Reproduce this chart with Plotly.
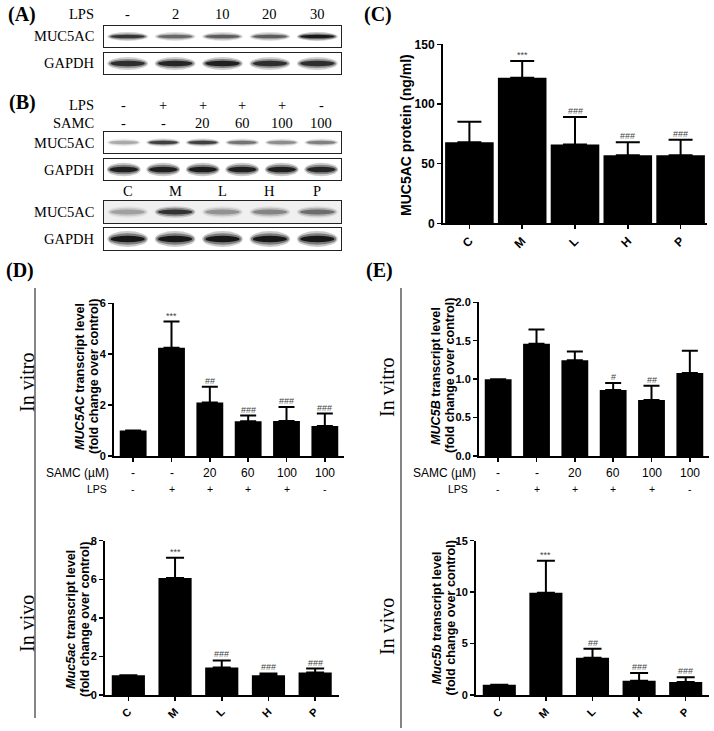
import plotly.graph_objects as go

W, H = 714, 731

# ---------------- data ----------------
c_cats = ["C", "M", "L", "H", "P"]
c_mean = [68, 122, 66, 57, 57]
c_top = [85, 136, 89, 68, 70]
c_sig = ["", "***", "###", "###", "###"]

dvitro_mean = [1.0, 4.25, 2.1, 1.37, 1.38, 1.18]
dvitro_top = [1.0, 5.28, 2.72, 1.59, 1.93, 1.67]
dvitro_sig = ["", "***", "##", "###", "###", "###"]

dvivo_mean = [1.02, 6.07, 1.43, 1.02, 1.17]
dvivo_top = [1.02, 7.12, 1.79, 1.12, 1.37]
dvivo_sig = ["", "***", "###", "###", "###"]

evitro_mean = [1.0, 1.46, 1.245, 0.86, 0.73, 1.08]
evitro_top = [1.0, 1.645, 1.36, 0.95, 0.915, 1.37]
evitro_sig = ["", "", "", "#", "##", ""]

evivo_mean = [1.0, 9.95, 3.63, 1.39, 1.26]
evivo_top = [1.0, 13.05, 4.5, 2.15, 1.72]
evivo_sig = ["", "***", "##", "###", "###"]

samc_labels = ["-", "-", "20", "60", "100", "100"]
lps_labels = ["-", "+", "+", "+", "+", "-"]

blotA_lps = ["-", "2", "10", "20", "30"]
blotB_lps = ["-", "+", "+", "+", "+", "-"]
blotB_samc = ["-", "-", "20", "60", "100", "100"]
blotB2_groups = ["C", "M", "L", "H", "P"]

# band intensities (0..1) read from the blots
bandA_muc = [0.75, 0.5, 0.55, 0.55, 0.95]
bandA_gapdh = [0.8, 0.85, 0.9, 0.8, 0.8]
bandB_muc = [0.25, 0.7, 0.7, 0.45, 0.35, 0.4]
bandB_gapdh = [0.9, 0.9, 0.92, 0.9, 0.9, 0.85]
bandB2_muc = [0.25, 0.75, 0.3, 0.35, 0.45]
bandB2_gapdh = [0.95, 0.95, 0.95, 0.95, 0.95]

SANS = "Liberation Sans"
SERIF = "Liberation Serif"


def px(x):
    return x / W


def py(y):
    return 1 - y / H


def xdom(a, b):
    return [a / W, b / W]


def ydom(top, bottom):
    return [1 - bottom / H, 1 - top / H]


fig = go.Figure()
layout = dict(width=W, height=H, margin=dict(l=0, r=0, t=0, b=0, pad=0),
              autosize=False,
              paper_bgcolor="white", plot_bgcolor="white", showlegend=False)
annotations = []
shapes = []


def note(x, y, text, size, family=SANS, xref="paper", yref="paper",
         xanchor="center", yanchor="middle", angle=0, color="black"):
    annotations.append(dict(x=x, y=y, xref=xref, yref=yref, text=text,
                            showarrow=False, xanchor=xanchor, yanchor=yanchor,
                            textangle=angle, borderpad=0,
                            font=dict(family=family, size=size, color=color)))


def chart_axes(idx, xd, yd, n, yr, dtick, cats=None, tickfmt=None, fs=11):
    xa = dict(domain=xd, anchor="y%d" % idx, range=[-0.5, n - 0.5],
              showline=True, linecolor="black", linewidth=2, ticks="outside",
              ticklen=4, tickwidth=1.5, tickcolor="black", showgrid=False,
              zeroline=False, tickvals=list(range(n)), automargin=False)
    if cats is None:
        xa["showticklabels"] = False
    else:
        xa["ticktext"] = cats
        xa["tickangle"] = -45
        xa["tickfont"] = dict(family=SANS, size=fs, color="black", weight="bold")
    ya = dict(domain=yd, anchor="x%d" % idx, range=yr, dtick=dtick, tick0=0,
              showline=True, linecolor="black", linewidth=2, ticks="outside",
              ticklen=4, tickwidth=1.5, tickcolor="black", showgrid=False,
              zeroline=False, automargin=False,
              tickfont=dict(family=SANS, size=fs, color="black", weight="bold"))
    if tickfmt:
        ya["tickformat"] = tickfmt
    key = "" if idx == 1 else str(idx)
    layout["xaxis" + key] = xa
    layout["yaxis" + key] = ya


def bars(idx, mean, top, sig, width, capw):
    n = len(mean)
    key = "" if idx == 1 else str(idx)
    fig.add_trace(go.Bar(
        x=list(range(n)), y=mean, width=width,
        marker=dict(color="black", line=dict(width=0)),
        error_y=dict(type="data", symmetric=False,
                     array=[t - m for t, m in zip(top, mean)],
                     arrayminus=[0] * n, color="black", thickness=2, width=capw),
        xaxis="x" + key, yaxis="y" + key, hoverinfo="skip"))
    for i, s in enumerate(sig):
        if s:
            note(i, top[i], s, 9, xref="x" + key, yref="y" + key,
                 yanchor="bottom", color="#444")


# ---- panel C ----
chart_axes(1, xdom(443, 707), ydom(44.3, 223.3), 5, [0, 150], 50, cats=c_cats, fs=12)
bars(1, c_mean, c_top, c_sig, 0.92, 12)
note(px(406), py(135), "<b>MUC5AC protein (ng/ml)</b>", 14, angle=-90)

# ---- panel D ----
chart_axes(2, xdom(114, 344), ydom(303.3, 456), 6, [0, 6], 2)
bars(2, dvitro_mean, dvitro_top, dvitro_sig, 0.7, 8)
chart_axes(3, xdom(105, 338.5), ydom(540.7, 695), 5, [0, 8], 2, cats=c_cats)
bars(3, dvivo_mean, dvivo_top, dvivo_sig, 0.71, 9)

# ---- panel E ----
chart_axes(4, xdom(479, 709), ydom(302.3, 456), 6, [0, 2], 0.5, tickfmt=".1f")
bars(4, evitro_mean, evitro_top, evitro_sig, 0.7, 8)
chart_axes(5, xdom(476, 709), ydom(540.7, 695), 5, [0, 15], 5, cats=c_cats)
bars(5, evivo_mean, evivo_top, evivo_sig, 0.71, 9)

# y titles of D/E (two lines each)
ytitles = [
    (80, 94, 377, "<i>MUC5AC</i> transcript level"),
    (71, 85, 620, "<i>Muc5ac</i> transcript level"),
    (436, 450, 376, "<i>MUC5B</i> transcript level"),
    (436.5, 450.5, 618, "<i>Muc5b</i> transcript level"),
]
for x1, x2, y, t in ytitles:
    note(px(x1), py(y), "<b>%s</b>" % t, 12.6, angle=-90)
    note(px(x2), py(y), "<b>(fold change over control)</b>", 12.6, angle=-90)

# SAMC / LPS rows under the in-vitro charts
for ax, samc_x, lps_x in [(2, 110, 108), (4, 477, 469)]:
    note(px(samc_x), py(472.5), "SAMC (µM)", 12, xanchor="right")
    note(px(lps_x), py(488.5), "LPS", 10.5, xanchor="right")
    for i in range(6):
        note(i, py(472.5), samc_labels[i], 12, xref="x%d" % ax)
        note(i, py(488.5), lps_labels[i], 10.5, xref="x%d" % ax)

# In vitro / In vivo labels and separators
for x, y, t in [(27, 382, "In vitro"), (27, 623, "In vivo"),
                (387, 388, "In vitro"), (387, 627, "In vivo")]:
    note(px(x), py(y), t, 20, family=SERIF, angle=-90)
for x, y0, y1 in [(35, 288, 718), (401, 288, 728)]:
    shapes.append(dict(type="line", xref="paper", yref="paper", x0=px(x), x1=px(x),
                       y0=py(y0), y1=py(y1), line=dict(color="#333", width=1.2)))

# panel letters
for x, y, t in [(22, 14, "(A)"), (22, 102, "(B)"), (378, 14, "(C)"),
                (20, 271, "(D)"), (379, 271, "(E)")]:
    note(px(x), py(y), "<b>%s</b>" % t, 20, family=SERIF)

# ---------------- western blots ----------------
blots = [
    (6, 26, 47, bandA_muc, 0.11, "MUC5AC"),
    (7, 53, 74, bandA_gapdh, 0.16, "GAPDH"),
    (8, 132, 153, bandB_muc, 0.10, "MUC5AC"),
    (9, 159, 180, bandB_gapdh, 0.17, "GAPDH"),
    (10, 201, 223, bandB2_muc, 0.14, "MUC5AC"),
    (11, 228, 250, bandB2_gapdh, 0.19, "GAPDH"),
]
for idx, top, bot, inten, hh, lab in blots:
    n = len(inten)
    layout["xaxis%d" % idx] = dict(domain=xdom(104, 341), anchor="y%d" % idx,
                                   range=[0.5, n + 0.5], showline=True, mirror=True,
                                   linecolor="#222", linewidth=1.2, showgrid=False,
                                   zeroline=False, showticklabels=False, ticks="")
    layout["yaxis%d" % idx] = dict(domain=ydom(top, bot), anchor="x%d" % idx,
                                   range=[0, 1], showline=True, mirror=True,
                                   linecolor="#222", linewidth=1.2, showgrid=False,
                                   zeroline=False, showticklabels=False, ticks="")
    if idx == 10:
        shapes.append(dict(type="rect", xref="x10 domain", yref="y10 domain",
                           x0=0, x1=1, y0=0, y1=1, fillcolor="rgba(0,0,0,0.06)",
                           line=dict(width=0), layer="below"))
    for i, v in enumerate(inten):
        lane = i + 1
        for hw, hf, op in [(0.43, 1.9, 0.22), (0.40, 1.35, 0.4), (0.36, 0.8, 0.85)]:
            shapes.append(dict(type="circle", xref="x%d" % idx, yref="y%d" % idx,
                               x0=lane - hw, x1=lane + hw,
                               y0=0.5 - hh * hf, y1=0.5 + hh * hf,
                               fillcolor="black", opacity=op * v,
                               line=dict(width=0)))
    note(px(95), py((top + bot) / 2), lab, 14.5, family=SERIF, xanchor="right")

note(px(95), py(14), "LPS", 14.5, family=SERIF, xanchor="right")
for i, t in enumerate(blotA_lps):
    note(i + 1, py(14), t, 14.5, family=SERIF, xref="x6")
note(px(95), py(105), "LPS", 14.5, family=SERIF, xanchor="right")
note(px(95), py(123), "SAMC", 14.5, family=SERIF, xanchor="right")
for i in range(6):
    note(i + 1, py(105), blotB_lps[i], 14.5, family=SERIF, xref="x8")
    note(i + 1, py(123), blotB_samc[i], 14.5, family=SERIF, xref="x8")
for i, t in enumerate(blotB2_groups):
    note(i + 1, py(191), t, 14.5, family=SERIF, xref="x10")

layout["annotations"] = annotations
layout["shapes"] = shapes
fig.update_layout(**layout)
fig.write_html("out.html", config={"displayModeBar": False, "staticPlot": True},
               post_script="document.body.style.margin='0';document.body.style.padding='0';")
